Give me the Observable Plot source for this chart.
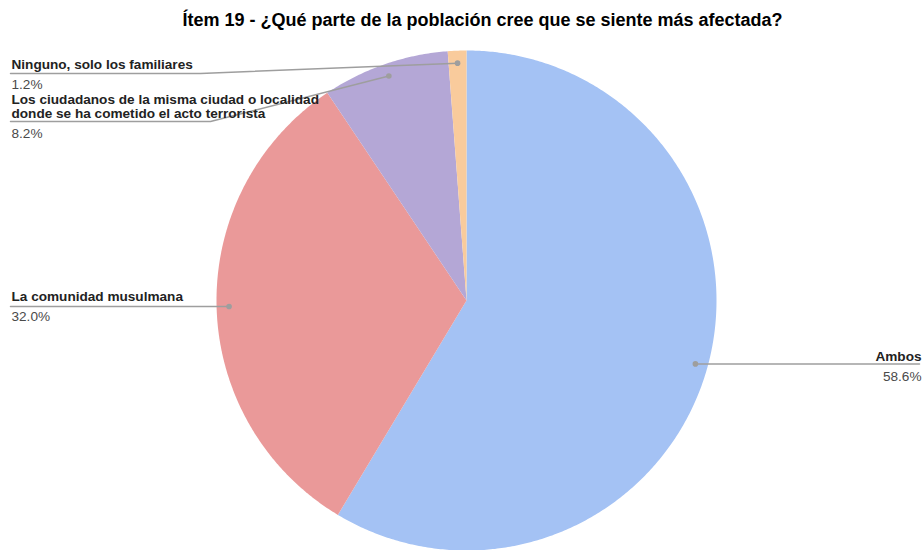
<!DOCTYPE html>
<html>
<head>
<meta charset="utf-8">
<script src="https://cdn.jsdelivr.net/npm/d3@7"></script>
<script src="https://cdn.jsdelivr.net/npm/@observablehq/plot@0.6"></script>
<style>
  html, body { margin: 0; padding: 0; background: #fff; }
  svg { display: block; }
</style>
</head>
<body>
<div id="chart"></div>
<script>
// ---- data ----
const categories = [
  "Ambos",
  "La comunidad musulmana",
  "Los ciudadanos de la misma ciudad o localidad donde se ha cometido el acto terrorista",
  "Ninguno, solo los familiares"
];
const values = [58.6, 32.0, 8.2, 1.2];
const percentLabels = ["58.6%", "32.0%", "8.2%", "1.2%"];
const labelLines = [
  ["Ambos"],
  ["La comunidad musulmana"],
  ["Los ciudadanos de la misma ciudad o localidad", "donde se ha cometido el acto terrorista"],
  ["Ninguno, solo los familiares"]
];
const colors = ["#a4c2f4", "#ea9999", "#b4a7d6", "#f9cb9c"];
const title = "Ítem 19 - ¿Qué parte de la población cree que se siente más afectada?";

// ---- layout ----
const W = 924, H = 550;
const cx = 466, cy = 300, R = 250;          // pixel centre / radius
const toX = px => (px - cx) / R, toY = py => (cy - py) / R;
const lineGap = 14;
// label layout (pixels): text anchor side, x of text, baseline of first line, underline y, elbow x
const labelLayout = [
  {side: "end",   tx: 921, base: 360, ly: 365, elbow: null},
  {side: "start", tx: 11,  base: 300, ly: 306, elbow: null},
  {side: "start", tx: 11,  base: 103, ly: 121, elbow: 210},
  {side: "start", tx: 11,  base: 68,  ly: 73,  elbow: 200}
];

const pie = d3.pie().sort(null).value(d => d.value).startAngle(0).endAngle(2 * Math.PI);
const data = categories.map((c, i) => ({category: c, value: values[i], color: colors[i], i}));
const arcs = pie(data);

const slicePts = arcs.map(a => {
  const pts = [{x: 0, y: 0}];
  const n = Math.max(4, Math.ceil((a.endAngle - a.startAngle) / (Math.PI / 360)));
  for (let k = 0; k <= n; k++) {
    const t = a.startAngle + (a.endAngle - a.startAngle) * k / n;
    pts.push({x: Math.sin(t), y: Math.cos(t)});
  }
  pts.push({x: 0, y: 0});
  return pts;
});

const dotR = 0.95;
const dots = arcs.map(a => {
  const m = (a.startAngle + a.endAngle) / 2;
  return {x: dotR * Math.sin(m), y: dotR * Math.cos(m), i: a.data.i};
});

const leaders = dots.map((d, i) => {
  const L = labelLayout[i];
  const pts = [{x: d.x, y: d.y, i}];
  if (L.side === "end") {
    pts.push({x: toX(L.tx - 2), y: d.y, i});
  } else {
    if (L.elbow != null) pts.push({x: toX(L.elbow), y: toY(L.ly), i});
    pts.push({x: toX(L.tx - 1), y: toY(L.ly), i});
  }
  return pts;
}).flat();

const labelTexts = [];
const pctTexts = [];
labelLines.forEach((lines, i) => {
  const L = labelLayout[i];
  lines.forEach((t, j) => labelTexts.push({x: toX(L.tx), y: toY(L.base + j * lineGap), text: t, anchor: L.side}));
  const lastBase = L.base + (lines.length - 1) * lineGap;
  const pctBase = L.side === "end" ? L.base + 20 : lastBase + 20;
  pctTexts.push({x: toX(L.tx), y: toY(pctBase), text: percentLabels[i], anchor: L.side});
});

const font = "'Liberation Sans', Arial, sans-serif";
const fs = 13.6;

const marks = [
  ...slicePts.map((pts, i) => Plot.line(pts, {x: "x", y: "y", fill: colors[i], stroke: "none", curve: "linear"})),
  Plot.line(leaders, {x: "x", y: "y", z: "i", stroke: "#9e9e9e", strokeWidth: 1.5, curve: "linear"}),
  Plot.dot(dots, {x: "x", y: "y", r: 2.8, fill: "#9e9e9e", stroke: "none"}),
  Plot.text(labelTexts.filter(d => d.anchor === "start"), {x: "x", y: "y", text: "text", textAnchor: "start", lineAnchor: "bottom", fontSize: fs, fontWeight: "bold", fill: "#222"}),
  Plot.text(labelTexts.filter(d => d.anchor === "end"), {x: "x", y: "y", text: "text", textAnchor: "end", lineAnchor: "bottom", fontSize: fs, fontWeight: "bold", fill: "#222"}),
  Plot.text(pctTexts.filter(d => d.anchor === "start"), {x: "x", y: "y", text: "text", textAnchor: "start", lineAnchor: "bottom", fontSize: fs, fill: "#4a4a4a"}),
  Plot.text(pctTexts.filter(d => d.anchor === "end"), {x: "x", y: "y", text: "text", textAnchor: "end", lineAnchor: "bottom", fontSize: fs, fill: "#4a4a4a"}),
  Plot.text([title], {x: toX(482), y: toY(25), text: d => d, textAnchor: "middle", lineAnchor: "bottom", fontSize: 18, fontWeight: "bold", fill: "#000"})
];

const chart = Plot.plot({
  width: W,
  height: H,
  margin: 0,
  x: {domain: [toX(0), toX(W)], axis: null},
  y: {domain: [toY(H), toY(0)], axis: null},
  style: {fontFamily: font, background: "#fff"},
  marks
});
document.getElementById("chart").appendChild(chart);
</script>
</body>
</html>
